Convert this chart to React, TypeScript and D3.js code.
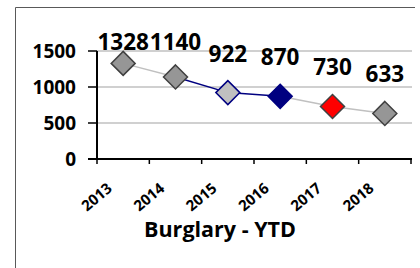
import React from "react";
import * as d3 from "d3";

const years = ["2013", "2014", "2015", "2016", "2017", "2018"];
const values = [1328, 1140, 922, 870, 730, 633];
const markerFill = ["#969696", "#969696", "#c0c0c0", "#000080", "#ff0000", "#969696"];
const markerStroke = ["#404040", "#404040", "#000080", "#000080", "#404040", "#404040"];
const segmentColor = ["#c0c0c0", "#000080", "#000080", "#c0c0c0", "#c0c0c0"];
const yTicks = [0, 500, 1000, 1500];
const title = "Burglary - YTD";

export default function App() {
  const W = 420, H = 268;
  const left = 97, right = 411, top = 51, bottom = 159;
  const x = d3.scaleBand<string>().domain(years).range([left, right]);
  const y = d3.scaleLinear().domain([0, 1500]).range([bottom, top]);
  const cx = (i: number) => (x(years[i]) as number) + x.bandwidth() / 2;
  const diamond = (s: number) => `M0,${-s}L${s},0L0,${s}L${-s},0Z`;
  const font = "'Open Sans', sans-serif";
  return (
    <svg width={W} height={H} style={{ position: "absolute", left: 0, top: 0, background: "#fff" }}>
      <line x1={15.5} y1={7.5} x2={415} y2={7.5} stroke="#595959" />
      <line x1={15.5} y1={7.5} x2={15.5} y2={H} stroke="#595959" />
      {yTicks.filter((t) => t > 0).map((t) => (
        <line key={t} x1={left} x2={right + 1} y1={y(t)} y2={y(t)} stroke="#c0c0c0" strokeWidth={1.5} />
      ))}
      {yTicks.map((t) => (
        <g key={"yt" + t}>
          <line x1={left - 9} x2={left} y1={y(t)} y2={y(t)} stroke="#000" strokeWidth={1.5} />
          <text x={left - 21} y={y(t)} dy="0.36em" textAnchor="end" fontFamily={font} fontWeight={700} fontSize={19} fill="#000">
            {t}
          </text>
        </g>
      ))}
      <line x1={left} x2={left} y1={top} y2={bottom} stroke="#000" strokeWidth={2} />
      <line x1={left - 9} x2={right + 1} y1={bottom} y2={bottom} stroke="#000" strokeWidth={2} />
      {years.map((yr) => (
        <line key={"xt" + yr} x1={(x(yr) as number) + x.bandwidth()} x2={(x(yr) as number) + x.bandwidth()} y1={bottom} y2={bottom + 5} stroke="#000" strokeWidth={1.5} />
      ))}
      <line x1={left} x2={left} y1={bottom} y2={bottom + 5} stroke="#000" strokeWidth={1.5} />
      {years.map((yr, i) => (
        <text key={"xl" + yr} transform={`translate(${cx(i) - 10},${bottom + 31}) rotate(-40)`} textAnchor="end" fontFamily={font} fontWeight={700} fontSize={15} fill="#000">
          {yr}
        </text>
      ))}
      {values.slice(0, -1).map((v, i) => (
        <line key={"seg" + i} x1={cx(i)} y1={y(v)} x2={cx(i + 1)} y2={y(values[i + 1])} stroke={segmentColor[i]} strokeWidth={1.5} />
      ))}
      {values.map((v, i) => (
        <path key={"m" + i} d={diamond(12)} transform={`translate(${cx(i)},${y(v)})`} fill={markerFill[i]} stroke={markerStroke[i]} strokeWidth={1.5} />
      ))}
      {values.map((v, i) => (
        <text key={"dl" + i} x={cx(i)} y={Math.max(y(v) - 31, top - 1)} textAnchor="middle" fontFamily={font} fontWeight={700} fontSize={22.5} fill="#000">
          {v}
        </text>
      ))}
      <text x={220} y={237} textAnchor="middle" fontFamily={font} fontWeight={700} fontSize={21.5} fill="#000">
        {title}
      </text>
    </svg>
  );
}
